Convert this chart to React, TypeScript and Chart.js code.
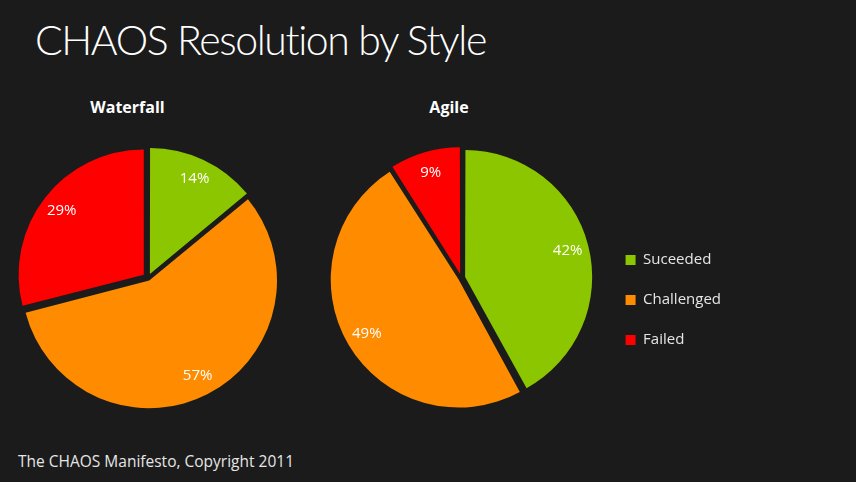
import { useEffect, useRef } from "react";
import { Chart, registerables, type Plugin } from "chart.js";

Chart.register(...registerables);

const categories = ["Suceeded", "Challenged", "Failed"];
const waterfallValues = [14, 57, 29];
const agileValues = [42, 49, 9];
const sliceColors = ["#8cc600", "#ff8c00", "#ff0000"];

const FONT = '"Segoe UI", "Open Sans", "Noto Sans", sans-serif';
const TITLE_FONT = '"Segoe UI Light", Lato, "Open Sans", sans-serif';
const BG = "#1b1b1b";

// chart.js moves an arc by offset/4 * (2 - sin(circumference)),
// so work out the offset that explodes every slice by the same distance
const explodeOffset = (dist: number) => (ctx: any) => {
  const data = ctx.dataset.data as number[];
  const total = data.reduce((a, b) => a + b, 0);
  const circ = (data[ctx.dataIndex] / total) * Math.PI * 2;
  return (4 * dist) / (2 - Math.sin(Math.min(Math.PI, circ)));
};

const sliceLabels: Plugin<"pie"> = {
  id: "sliceLabels",
  afterDatasetsDraw(chart, _args, opts: any) {
    const { ctx } = chart;
    const meta = chart.getDatasetMeta(0);
    const data = chart.data.datasets[0].data as number[];
    ctx.save();
    ctx.font = `15px ${FONT}`;
    ctx.fillStyle = "#ffffff";
    ctx.textAlign = "center";
    ctx.textBaseline = "middle";
    meta.data.forEach((arc: any, i) => {
      const { x, y, startAngle, endAngle, outerRadius } = arc.getProps(
        ["x", "y", "startAngle", "endAngle", "outerRadius"],
        true
      );
      const mid = (startAngle + endAngle) / 2;
      const r = outerRadius * 0.83 + opts.explode;
      ctx.fillText(`${data[i]}%`, x + Math.cos(mid) * r, y + Math.sin(mid) * r);
    });
    ctx.restore();
  },
};

interface PieProps {
  values: number[];
  explode: number;
  legend?: boolean;
  padding: { left: number; right: number; top: number; bottom: number };
}

const Pie = ({ values, explode, legend = false, padding }: PieProps) => {
  const canvasRef = useRef<HTMLCanvasElement | null>(null);

  useEffect(() => {
    if (!canvasRef.current) return;
    const chart = new Chart(canvasRef.current, {
      type: "pie",
      data: {
        labels: categories,
        datasets: [
          {
            data: values,
            backgroundColor: sliceColors,
            borderWidth: 0,
            offset: explodeOffset(explode),
            radius: 125,
            clip: false,
          } as any,
        ],
      },
      options: {
        animation: false,
        responsive: true,
        maintainAspectRatio: false,
        layout: { padding },
        plugins: {
          tooltip: { enabled: false },
          legend: {
            display: legend,
            position: "right",
            align: "end",
            fullSize: false,
            labels: {
              boxWidth: 10,
              boxHeight: 10,
              padding: 25,
              color: "#e6e6e6",
              font: { family: FONT, size: 15 },
            },
          },
          sliceLabels: { explode },
        } as any,
      },
      plugins: [sliceLabels],
    });
    return () => chart.destroy();
  }, [values, explode, legend]);

  return <canvas ref={canvasRef} />;
};

const abs = (left: number, top: number, width: number, height: number) => ({
  position: "absolute" as const,
  left,
  top,
  width,
  height,
});

export default function App() {
  return (
    <div
      style={{
        position: "fixed",
        left: 0,
        top: 0,
        width: 856,
        height: 482,
        background: BG,
        color: "#ffffff",
        fontFamily: FONT,
        overflow: "hidden",
      }}
    >
      <div
        style={{
          position: "absolute",
          left: 35,
          top: 12,
          fontFamily: TITLE_FONT,
          fontSize: 41,
          fontWeight: 300,
          letterSpacing: -1.4,
          lineHeight: "56px",
          whiteSpace: "nowrap",
        }}
      >
        CHAOS Resolution by Style
      </div>
      <div
        style={{
          ...abs(27.5, 96, 200, 22),
          textAlign: "center",
          fontWeight: 700,
          fontSize: 16,
          lineHeight: "22px",
        }}
      >
        Waterfall
      </div>
      <div
        style={{
          ...abs(349, 96, 200, 22),
          textAlign: "center",
          fontWeight: 700,
          fontSize: 16,
          lineHeight: "22px",
        }}
      >
        Agile
      </div>
      <div style={abs(0, 140, 296, 276)}>
        <Pie values={waterfallValues} explode={5.5} padding={{ left: 0, right: 0, top: 0, bottom: 0 }} />
      </div>
      <div style={abs(312, 140, 419, 280)}>
        <Pie
          values={agileValues}
          explode={6}
          legend
          padding={{ left: 10, right: 0, top: 43.5, bottom: 47.5 }}
        />
      </div>
      <div
        style={{
          position: "absolute",
          left: 18,
          top: 450,
          fontSize: 15.5,
          lineHeight: "22px",
          color: "#e6e6e6",
          whiteSpace: "nowrap",
        }}
      >
        The CHAOS Manifesto, Copyright 2011
      </div>
    </div>
  );
}
